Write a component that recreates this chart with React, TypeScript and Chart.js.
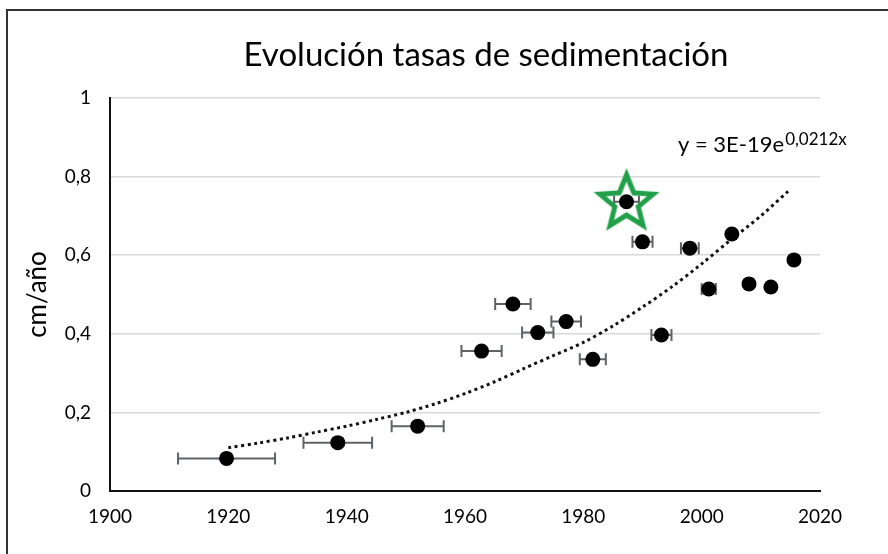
import React, { useEffect, useRef } from "react";
import { Chart, registerables } from "chart.js";

Chart.register(...registerables);

// ---- data ----
const sampleYears = [1919.7, 1938.5, 1952.0, 1962.8, 1968.1, 1972.3, 1977.1, 1981.6, 1987.3, 1990.0, 1993.2, 1998.0, 2001.2, 2005.1, 2008.0, 2011.7, 2015.6];
const sampleRates = [0.083, 0.123, 0.165, 0.356, 0.476, 0.403, 0.431, 0.335, 0.736, 0.634, 0.397, 0.618, 0.514, 0.654, 0.527, 0.519, 0.588];
const yearErrors = [8.2, 5.8, 4.4, 3.4, 3.0, 2.65, 2.5, 2.2, 2.1, 1.7, 1.7, 1.5, 1.2, 0, 0, 0, 0];

const trendYears = [1920, 1925, 1930, 1935, 1940, 1945, 1950, 1955, 1960, 1965, 1970, 1975, 1980, 1985, 1990, 1995, 2000, 2005, 2010, 2015];
const trendRates = [0.110, 0.122, 0.135, 0.150, 0.165, 0.182, 0.200, 0.222, 0.248, 0.278, 0.312, 0.345, 0.378, 0.420, 0.468, 0.520, 0.578, 0.640, 0.700, 0.768];

const starYears = [1987.3];
const starRates = [0.736];

const xTickValues = [1900, 1920, 1940, 1960, 1980, 2000, 2020];
const yTickValues = [0, 0.2, 0.4, 0.6, 0.8, 1];
const xTickLabels = ["1900", "1920", "1940", "1960", "1980", "2000", "2020"];
const yTickLabels = ["0", "0,2", "0,4", "0,6", "0,8", "1"];

const titleText = "Evolución tasas de sedimentación";
const yAxisTitle = "cm/año";
const equationMain = "y = 3E-19e";
const equationExp = "0,0212x";

const FONT = "Lato, 'Open Sans', sans-serif";

function makeStar(): HTMLCanvasElement {
  const size = 72;
  const c = document.createElement("canvas");
  c.width = size;
  c.height = size;
  const ctx = c.getContext("2d")!;
  const cx = size / 2;
  const cy = size / 2 + 1;
  const R = 28;
  const r = R * 0.44;
  ctx.beginPath();
  for (let i = 0; i < 10; i++) {
    const rad = i % 2 === 0 ? R : r;
    const a = -Math.PI / 2 + (i * Math.PI) / 5;
    const x = cx + rad * Math.cos(a);
    const y = cy + rad * Math.sin(a);
    if (i === 0) ctx.moveTo(x, y);
    else ctx.lineTo(x, y);
  }
  ctx.closePath();
  ctx.lineWidth = 5;
  ctx.lineJoin = "miter";
  ctx.strokeStyle = "#21a049";
  ctx.stroke();
  return c;
}

const decorPlugin = {
  id: "decor",
  beforeDraw(chart: any) {
    const ctx = chart.ctx;
    ctx.save();
    ctx.fillStyle = "#ffffff";
    ctx.fillRect(0, 0, chart.width, chart.height);
    ctx.strokeStyle = "#333333";
    ctx.lineWidth = 2;
    ctx.beginPath();
    ctx.moveTo(7, chart.height);
    ctx.lineTo(7, 10);
    ctx.lineTo(chart.width, 10);
    ctx.stroke();
    ctx.restore();
  },
  beforeDatasetsDraw(chart: any) {
    const ctx = chart.ctx;
    const xs = chart.scales.x;
    const ys = chart.scales.y;
    ctx.save();
    ctx.strokeStyle = "#5f6366";
    ctx.lineWidth = 2;
    for (let i = 0; i < sampleYears.length; i++) {
      const e = yearErrors[i];
      if (!e) continue;
      const x1 = xs.getPixelForValue(sampleYears[i] - e);
      const x2 = xs.getPixelForValue(sampleYears[i] + e);
      const y = ys.getPixelForValue(sampleRates[i]);
      ctx.beginPath();
      ctx.moveTo(x1, y);
      ctx.lineTo(x2, y);
      ctx.moveTo(x1, y - 6);
      ctx.lineTo(x1, y + 6);
      ctx.moveTo(x2, y - 6);
      ctx.lineTo(x2, y + 6);
      ctx.stroke();
    }
    ctx.restore();
  },
  afterDraw(chart: any) {
    const ctx = chart.ctx;
    ctx.save();
    ctx.fillStyle = "#000000";
    ctx.textBaseline = "alphabetic";
    ctx.textAlign = "center";
    ctx.font = `33px ${FONT}`;
    ctx.fillText(titleText, 486, 66);
    ctx.textAlign = "left";
    ctx.font = `22px ${FONT}`;
    ctx.fillText(equationMain, 678, 152);
    const w = ctx.measureText(equationMain).width;
    ctx.font = `17px ${FONT}`;
    ctx.fillText(equationExp, 678 + w + 1, 145);
    ctx.restore();
  },
};

export default function App() {
  const ref = useRef<HTMLCanvasElement | null>(null);

  useEffect(() => {
    if (!ref.current) return;
    const star = makeStar();
    const chart = new Chart(ref.current, {
      type: "scatter",
      data: {
        datasets: [
          {
            label: "star",
            data: starYears.map((x, i) => ({ x, y: starRates[i] })),
            pointStyle: star as any,
            pointRadius: 30,
            order: 0,
          },
          {
            label: "samples",
            data: sampleYears.map((x, i) => ({ x, y: sampleRates[i] })),
            backgroundColor: "#000000",
            borderColor: "#000000",
            borderWidth: 0,
            pointRadius: 7.5,
            order: 1,
          },
          {
            type: "line" as any,
            label: "trend",
            data: trendYears.map((x, i) => ({ x, y: trendRates[i] })),
            borderColor: "#111111",
            borderWidth: 3,
            borderDash: [3, 3.5],
            pointRadius: 0,
            tension: 0.3,
            fill: false,
            order: 2,
          } as any,
        ],
      },
      options: {
        animation: false,
        responsive: false,
        layout: { padding: { top: 98, right: 68, bottom: 0, left: 0 } },
        plugins: {
          legend: { display: false },
          tooltip: { enabled: false },
          title: { display: false },
        },
        scales: {
          x: {
            type: "linear",
            min: xTickValues[0],
            max: xTickValues[xTickValues.length - 1],
            afterFit: (s: any) => {
              s.height = 63;
            },
            afterBuildTicks: (s: any) => {
              s.ticks = xTickValues.map((v) => ({ value: v }));
            },
            ticks: {
              padding: 14,
              color: "#000000",
              font: { family: FONT, size: 19 },
              callback: (v: any) => xTickLabels[xTickValues.indexOf(Number(v))] ?? String(v),
              maxRotation: 0,
            },
            grid: { display: false, drawTicks: false },
            border: { display: true, color: "#111111", width: 2 },
          },
          y: {
            type: "linear",
            min: yTickValues[0],
            max: yTickValues[yTickValues.length - 1],
            afterFit: (s: any) => {
              s.width = 110;
            },
            afterBuildTicks: (s: any) => {
              s.ticks = yTickValues.map((v) => ({ value: v }));
            },
            ticks: {
              padding: 19,
              color: "#000000",
              font: { family: FONT, size: 19 },
              callback: (v: any) => {
                const idx = yTickValues.findIndex((t) => Math.abs(t - Number(v)) < 1e-9);
                return idx >= 0 ? yTickLabels[idx] : String(v);
              },
            },
            grid: { color: "#d9d9d9", lineWidth: 1.5, drawTicks: false },
            border: { display: true, color: "#111111", width: 2 },
            title: {
              display: true,
              text: yAxisTitle,
              color: "#000000",
              font: { family: FONT, size: 26 },
              padding: { top: 22, bottom: 0 },
            },
          },
        },
      },
      plugins: [decorPlugin],
    });
    return () => chart.destroy();
  }, []);

  return (
    <div style={{ position: "absolute", left: 0, top: 0, width: 888, height: 554 }}>
      <canvas ref={ref} width={888} height={554} />
    </div>
  );
}
